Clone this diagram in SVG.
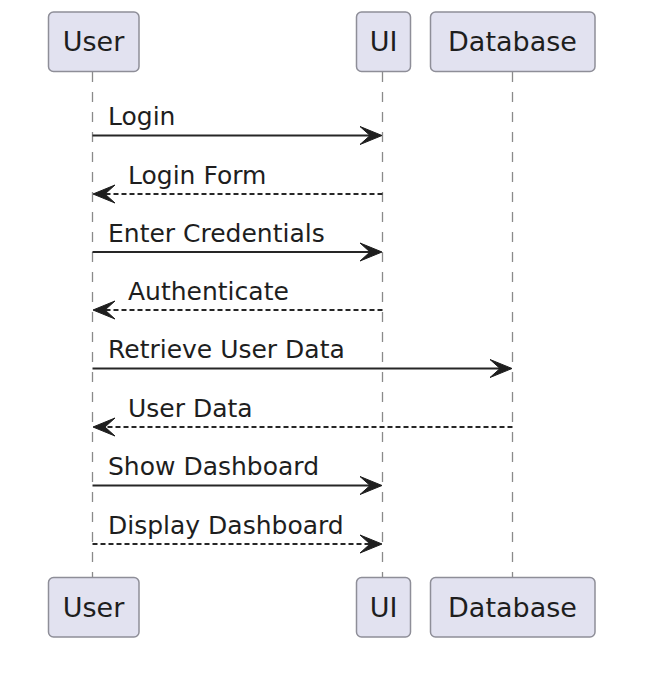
<svg xmlns="http://www.w3.org/2000/svg" width="654" height="696" viewBox="0 0 654 696">
<style>
.box{fill:#E2E2F0;stroke:#8E8E98;stroke-width:1.5;}
.pt{font-family:"DejaVu Sans",sans-serif;font-size:27px;fill:#1E1E1E;text-anchor:middle;}
.life{stroke:#8A8A8A;stroke-width:1.3;stroke-dasharray:10,10;fill:none;}
.msg{stroke:#262626;stroke-width:2;fill:none;}
.ret{stroke:#262626;stroke-width:2;fill:none;stroke-dasharray:5,3;}
.ml{font-family:"DejaVu Sans",sans-serif;font-size:25px;fill:#1E1E1E;}
.ah{fill:#1E1E1E;stroke:#1E1E1E;stroke-width:1;}
</style>
<rect width="654" height="696" fill="#fff"/>
<g id="lifelines">
<line class="life" x1="92.5" y1="72" x2="92.5" y2="577"/>
<line class="life" x1="382.5" y1="72" x2="382.5" y2="577"/>
<line class="life" x1="512.5" y1="72" x2="512.5" y2="577"/>
</g>
<g id="User">
<rect class="box" x="48.5" y="12" width="90.5" height="59.5" rx="5"/>
<text class="pt" x="93.5" y="51">User</text>
<rect class="box" x="48.5" y="577.5" width="90.5" height="59.5" rx="5"/>
<text class="pt" x="93.5" y="617">User</text>
</g>
<g id="UI">
<rect class="box" x="356.5" y="12" width="54" height="59.5" rx="5"/>
<text class="pt" x="383.5" y="51">UI</text>
<rect class="box" x="356.5" y="577.5" width="54" height="59.5" rx="5"/>
<text class="pt" x="383.5" y="617">UI</text>
</g>
<g id="Database">
<rect class="box" x="430.5" y="12" width="164.5" height="59.5" rx="5"/>
<text class="pt" x="512.5" y="51">Database</text>
<rect class="box" x="430.5" y="577.5" width="164.5" height="59.5" rx="5"/>
<text class="pt" x="512.5" y="617">Database</text>
</g>
<g id="connectors">
<line class="msg" x1="92.5" y1="135.5" x2="376" y2="135.5"/>
<polygon class="ah" points="382,135.5 360,126.5 370,135.5 360,144.5"/>
<text class="ml" x="108" y="125">Login</text>

<line class="ret" x1="382.5" y1="194" x2="99" y2="194"/>
<polygon class="ah" points="93,194 115,185 105,194 115,203"/>
<text class="ml" x="128" y="184">Login Form</text>

<line class="msg" x1="92.5" y1="252" x2="376" y2="252"/>
<polygon class="ah" points="382,252 360,243 370,252 360,261"/>
<text class="ml" x="108" y="242">Enter Credentials</text>

<line class="ret" x1="382.5" y1="310" x2="99" y2="310"/>
<polygon class="ah" points="93,310 115,301 105,310 115,319"/>
<text class="ml" x="128" y="300">Authenticate</text>

<line class="msg" x1="92.5" y1="368.5" x2="506" y2="368.5"/>
<polygon class="ah" points="512,368.5 490,359.5 500,368.5 490,377.5"/>
<text class="ml" x="108" y="358">Retrieve User Data</text>

<line class="ret" x1="512.5" y1="427" x2="99" y2="427"/>
<polygon class="ah" points="93,427 115,418 105,427 115,436"/>
<text class="ml" x="128" y="417">User Data</text>

<line class="msg" x1="92.5" y1="485.5" x2="376" y2="485.5"/>
<polygon class="ah" points="382,485.5 360,476.5 370,485.5 360,494.5"/>
<text class="ml" x="108" y="475">Show Dashboard</text>

<line class="ret" x1="92.5" y1="544" x2="376" y2="544"/>
<polygon class="ah" points="382,544 360,535 370,544 360,553"/>
<text class="ml" x="108" y="534">Display Dashboard</text>
</g>
</svg>
